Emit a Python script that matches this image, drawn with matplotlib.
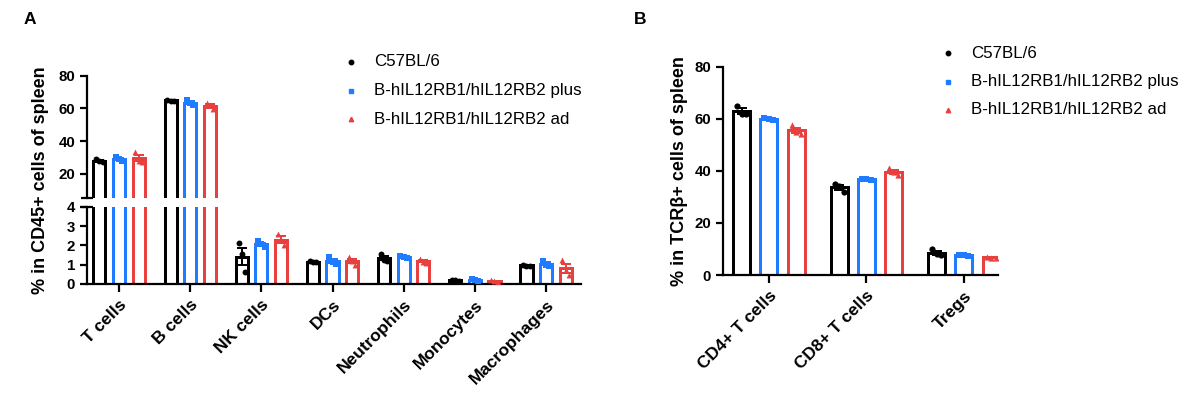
"""Spleen immune cell composition, C57BL/6 vs B-hIL12RB1/hIL12RB2 mice."""

import numpy as np
import matplotlib
matplotlib.use("Agg")
import matplotlib.pyplot as plt

plt.rcParams["font.family"] = ["Liberation Sans", "DejaVu Sans"]

GROUPS = ["C57BL/6", "B-hIL12RB1/hIL12RB2 plus", "B-hIL12RB1/hIL12RB2 ad"]
COLORS = ["#000000", "#1f7bff", "#e8403f"]
MARKERS = ["o", "s", "^"]

# panel A: % in CD45+ cells of spleen, individual mice per group
cells_a = ["T cells", "B cells", "NK cells", "DCs", "Neutrophils", "Monocytes", "Macrophages"]
c57_a = [[29.0, 28.0, 27.0], [65.3, 64.8, 64.5], [2.1, 1.55, 0.6], [1.2, 1.15, 1.12],
         [1.55, 1.25, 1.2], [0.22, 0.2, 0.18], [1.0, 0.95, 0.93]]
plus_a = [[30.5, 29.0, 28.0], [65.0, 63.0, 62.0], [2.2, 2.05, 1.9], [1.4, 1.15, 1.05],
          [1.45, 1.4, 1.35], [0.25, 0.2, 0.18], [1.2, 1.0, 0.95]]
ad_a = [[33.5, 28.0, 27.5], [63.5, 62.0, 59.5], [2.6, 2.3, 2.0], [1.4, 1.2, 1.0],
        [1.3, 1.15, 1.1], [0.2, 0.15, 0.1], [1.25, 0.75, 0.45]]

# panel B: % in TCRb+ cells of spleen
cells_b = ["CD4+ T cells", "CD8+ T cells", "Tregs"]
c57_b = [[65.0, 62.0, 62.0], [35.0, 34.0, 32.0], [10.0, 8.0, 7.5]]
plus_b = [[60.3, 60.0, 59.5], [37.0, 36.7, 36.5], [7.8, 7.5, 7.3]]
ad_b = [[57.5, 55.0, 54.0], [41.0, 39.5, 38.5], [7.0, 6.7, 6.5]]

JITTER = [-0.045, 0.0, 0.045]
LW = 1.6


def _style(ax):
    for s in ["top", "right"]:
        ax.spines[s].set_visible(False)
    for s in ["left", "bottom"]:
        ax.spines[s].set_linewidth(LW)
    ax.tick_params(width=LW, length=5)
    ax.tick_params(axis="y", labelsize=10.8)
    ax.tick_params(axis="x", length=6, labelsize=12.5)
    for lbl in ax.get_yticklabels() + ax.get_xticklabels():
        lbl.set_fontweight("bold")


def _draw(ax, datasets, off, width, ms):
    for g, data in enumerate(datasets):
        vals = [np.asarray(v) for v in data]
        means = [v.mean() for v in vals]
        sems = [v.std(ddof=1) / np.sqrt(len(v)) for v in vals]
        x = np.arange(len(vals)) + (g - 1) * off
        ax.bar(x, means, width=width, facecolor="none", edgecolor=COLORS[g],
               linewidth=LW * 1.35, zorder=2)
        ax.errorbar(x, means, yerr=sems, fmt="none", ecolor=COLORS[g],
                    elinewidth=LW * 0.9, capsize=3.5, capthick=LW * 0.9, zorder=3)
        for i, v in enumerate(vals):
            ax.scatter(x[i] + np.array(JITTER[:len(v)]) * width / 0.17, v,
                       marker=MARKERS[g], color=COLORS[g], s=ms, zorder=4,
                       linewidths=0)


def _legend(fig, x, y, dy):
    for g, name in enumerate(GROUPS):
        fig.lines.append(plt.Line2D([x], [y - g * dy], marker=MARKERS[g], color=COLORS[g],
                                    markersize=3.2, linestyle="none",
                                    transform=fig.transFigure))
        fig.text(x + 0.0195, y - g * dy, name, fontsize=12.2, va="center", ha="left")


fig = plt.figure(figsize=(11.88, 3.94), dpi=100)

# ---- panel A (broken y axis) ----
ax_up = fig.add_axes([0.0732, 0.4967, 0.4158, 0.3112])
ax_lo = fig.add_axes([0.0732, 0.2792, 0.4158, 0.1962])
datasets_a = [c57_a, plus_a, ad_a]
for ax in (ax_up, ax_lo):
    _draw(ax, datasets_a, 0.275, 0.17, 18)
    ax.set_xlim(-0.45, 6.49)

ax_up.set_ylim(5, 80)
ax_up.set_yticks([20, 40, 60, 80])
ax_up.spines["bottom"].set_visible(False)
ax_up.set_xticks([])
_style(ax_up)

ax_lo.set_ylim(0, 4)
ax_lo.set_yticks([0, 1, 2, 3, 4])
ax_lo.set_xticks(range(len(cells_a)))
ax_lo.set_xticklabels(cells_a, rotation=45, ha="right", rotation_mode="anchor")
_style(ax_lo)

# break caps
for ax, yy in ((ax_up, 0.0), (ax_lo, 1.0)):
    ax.plot([-0.012, 0.012], [yy, yy], transform=ax.transAxes, color="black",
            lw=LW, clip_on=False, solid_capstyle="butt")

fig.text(0.034, 0.543, "% in CD45+ cells of spleen", rotation=90, fontsize=13,
         fontweight="bold", ha="center", va="center")

# ---- panel B ----
ax_b = fig.add_axes([0.6086, 0.302, 0.2315, 0.5287])
_draw(ax_b, [c57_b, plus_b, ad_b], 0.28, 0.175, 20)
ax_b.set_xlim(-0.47, 2.35)
ax_b.set_ylim(0, 80)
ax_b.set_yticks([0, 20, 40, 60, 80])
ax_b.set_xticks(range(len(cells_b)))
ax_b.set_xticklabels(cells_b, rotation=45, ha="right", rotation_mode="anchor")
_style(ax_b)
ax_b.set_ylabel("% in TCRβ+ cells of spleen", fontsize=13, fontweight="bold", labelpad=5)

_legend(fig, 351 / 1188, 1 - 62 / 394, 28.5 / 394)
_legend(fig, 948 / 1188, 1 - 53 / 394, 28.5 / 394)

fig.text(30 / 1188, 1 - 19 / 394, "A", fontsize=12.5, fontweight="bold", ha="center", va="center")
fig.text(640 / 1188, 1 - 19 / 394, "B", fontsize=12.5, fontweight="bold", ha="center", va="center")

fig.savefig("out.png", dpi=100)
